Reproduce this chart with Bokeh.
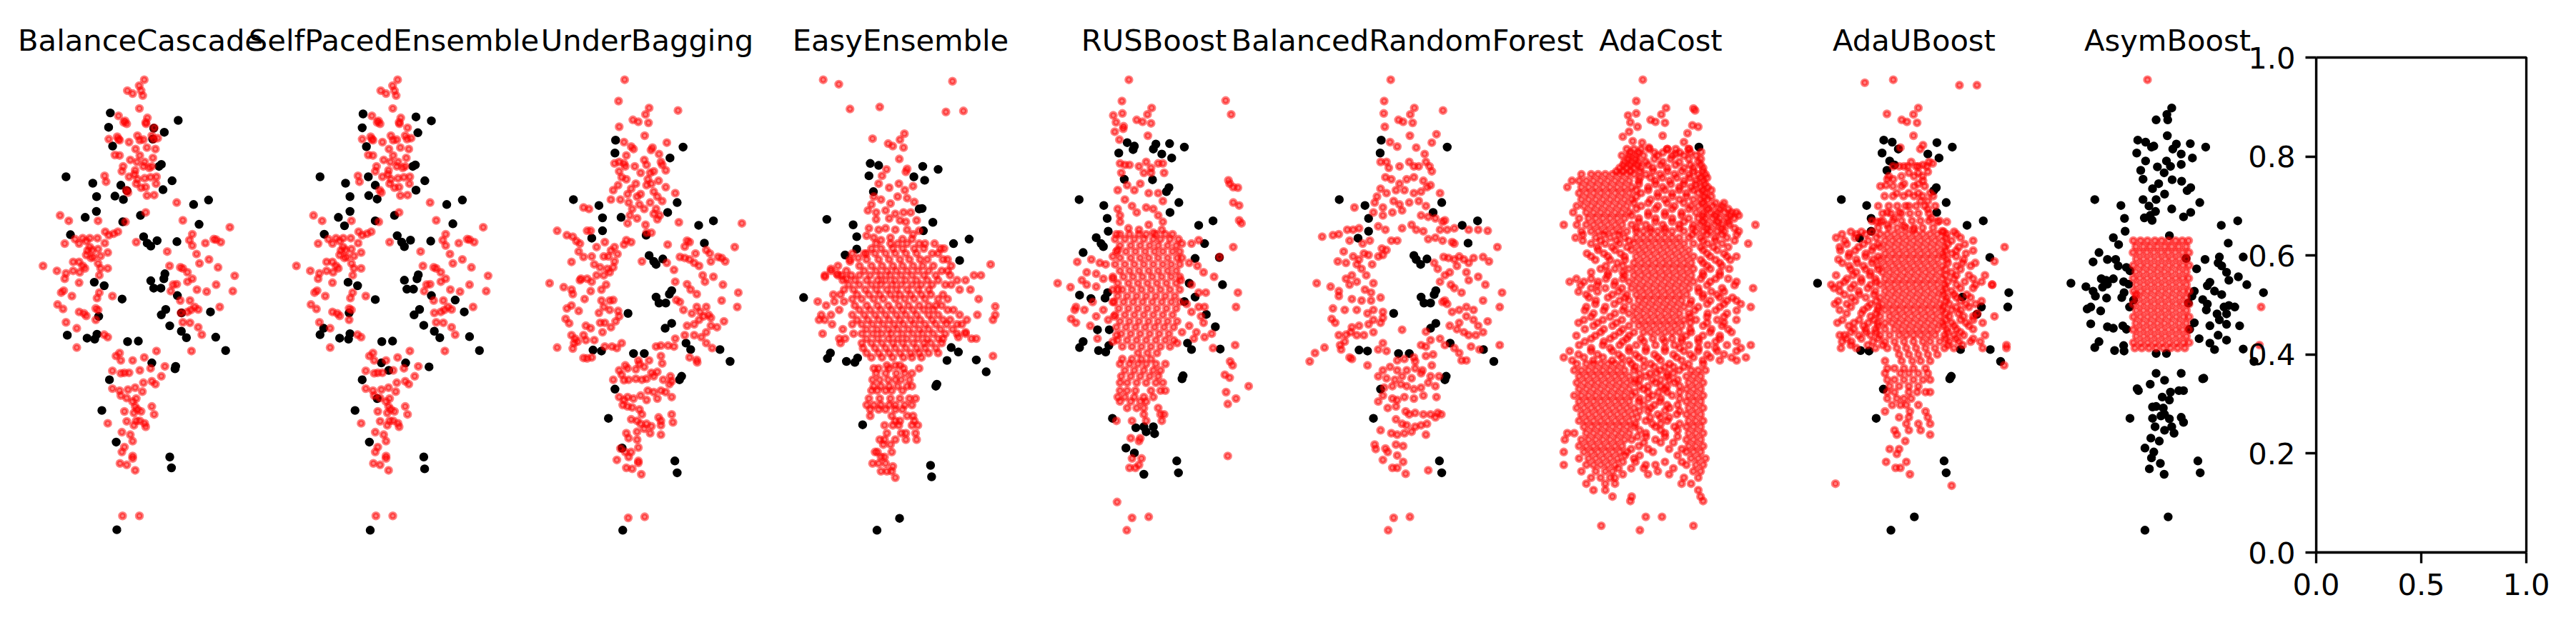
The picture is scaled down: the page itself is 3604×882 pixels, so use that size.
from bokeh.plotting import figure
from bokeh.models import Range1d, FixedTicker, PrintfTickFormatter, BoxAnnotation
from bokeh.layouts import row
from bokeh.embed import file_html
from bokeh.resources import INLINE
from bokeh.core.properties import value

# ---------------- data (feature space, per-mille of panel extent) ----------------
titles = ["BalanceCascade", "SelfPacedEnsemble", "UnderBagging", "EasyEnsemble", "RUSBoost",
          "BalancedRandomForest", "AdaCost", "AdaUBoost", "AsymBoost"]
x_ticks = [0.0, 0.5, 1.0]
y_ticks = [0.0, 0.2, 0.4, 0.6, 0.8, 1.0]

bc_black = [(357,888),(349,859),(679,873),(563,857),(613,849),(558,835),(368,821),(588,780),(599,784),(147,759),(274,746),(650,751),(292,719),(407,742),(436,731),(379,720),(419,713),(607,733),(752,703),(823,712),(291,689),(238,677),(416,668),(500,681),(778,663),(168,642),(515,638),(532,625),(549,619),(579,630),(673,628),(281,546),(328,539),(549,549),(563,534),(597,534),(616,563),(611,553),(413,512),(675,519),(302,477),(620,491),(599,480),(695,484),(832,486),(639,458),(694,447),(718,434),(153,439),(247,433),(283,431),(294,441),(439,426),(490,427),(857,435),(904,408),(554,383),(667,376),(664,371),(353,349),(317,287),(385,223),(639,193),(647,171),(388,46)]

spe_black = [(354,886),(605,880),(678,872),(350,858),(614,848),(370,820),(590,780),(602,783),(150,759),(379,759),(647,751),(271,746),(412,742),(605,732),(292,719),(381,721),(421,714),(751,703),(825,712),(292,689),(237,677),(503,681),(412,670),(266,660),(780,664),(170,643),(516,640),(579,631),(537,627),(550,618),(675,629),(283,546),(328,539),(550,550),(616,561),(610,553),(562,532),(593,532),(412,511),(678,519),(288,484),(791,510),(834,486),(622,491),(596,480),(642,459),(692,447),(718,434),(167,453),(150,440),(243,433),(285,431),(292,442),(443,426),(494,427),(859,436),(906,408),(441,383),(556,383),(476,368),(667,375),(350,349),(421,311),(316,287),(384,223),(642,193),(646,169),(388,45)]

spe_red = [(518,955),(494,943),(503,933),(438,933),(463,927),(511,923),(495,897),(396,882),(427,872),(435,866),(421,869),(525,869),(533,878),(565,858),(527,866),(350,835),(390,840),(401,833),(446,829),(486,842),(497,833),(514,834),(477,815),(531,818),(563,835),(582,837),(571,815),(554,842),(396,835),(379,803),(401,802),(452,793),(497,802),(520,789),(559,797),(418,780),(484,789),(514,780),(542,777),(554,780),(412,770),(475,772),(446,759),(472,764),(520,756),(548,758),(576,759),(480,745),(503,737),(525,738),(486,754),(531,721),(565,722),(574,745),(330,761),(337,749),(433,732),(441,727),
  (119,681),(160,670),(299,670),(429,668),(525,687),(333,648),(350,641),(373,644),(393,648),(190,633),(226,635),(243,629),(260,635),(296,635),(331,625),(141,624),(209,624),(260,617),(249,610),(271,611),(299,613),(243,601),(345,606),(311,599),(277,597),(181,587),(209,587),(226,579),(237,574),(299,584),(311,574),(345,574),(38,579),(104,569),(147,564),(141,553),(181,569),(212,566),(305,560),(266,595),(209,545),(305,525),(124,525),(136,529),(175,518),(367,518),(294,514),(107,501),(133,492),(209,486),(232,483),(243,478),(288,493),(299,490),(288,470),(147,465),(198,453),(328,440),(345,435),(198,414),(480,627),
  (672,707),(701,671),(924,657),(746,643),(732,631),(746,620),(808,625),(848,633),(859,632),(881,627),(627,608),(766,603),(780,584),(825,592),(638,579),(689,576),(701,574),(723,566),(746,553),(868,576),(947,559),(672,542),(655,541),(644,528),(723,547),(768,531),(814,527),(859,541),(938,528),(689,509),(735,509),(757,496),(774,491),(876,496),(692,484),(723,486),(740,490),(701,465),(735,464),(774,455),(791,440),(742,407),
  (576,407),(401,403),(384,397),(407,388),(463,388),(518,394),(367,367),(407,362),(424,363),(446,363),(497,368),(548,372),(616,376),(599,356),(514,343),(554,346),(571,340),(367,331),(401,327),(441,329),(475,333),(509,325),(407,317),(435,312),(463,305),(480,311),(475,295),(486,289),(424,285),(469,282),(503,285),(554,295),(565,279),(435,265),(480,266),(497,266),(520,261),(345,261),(469,257),(525,254),(412,243),(452,238),(463,225),(424,213),(412,203),(463,195),(463,190),(403,180),(435,177),(475,166),(415,74),(495,74)]
bc_red = spe_red

ub_black = [(350,833),(347,807),(670,819),(608,797),(150,713),(271,701),(288,676),(376,677),(288,650),(237,635),(642,707),(597,687),(495,641),(744,661),(814,670),(771,625),(509,600),(531,588),(574,593),(542,582),(542,516),(556,504),(588,504),(605,522),(616,529),(409,483),(585,453),(616,463),(243,409),(283,407),(435,402),(486,402),(684,423),(706,410),(845,410),(893,386),(653,349),(663,356),(347,330),(316,271),(381,211),(631,185),(642,161),(384,45)]

ub_red = [(393,955),(364,912),(646,893),(509,898),(492,885),(432,874),(458,870),(506,868),(367,860),(488,842),(390,829),(424,820),(435,815),(525,818),(518,813),(593,828),(556,805),(401,802),(345,786),(367,789),(390,786),(396,780),(441,780),(486,793),(497,783),(469,767),(565,789),(571,783),(588,772),(514,767),(531,770),(367,770),(379,758),(401,754),(503,754),(554,751),(520,745),(446,745),(424,735),(497,742),(469,724),(407,724),(362,742),(339,732),(328,713),(373,713),(412,707),(452,719),(463,703),(486,694),(514,707),(531,729),(548,719),(571,710),(588,738),(633,726),(429,694),(418,681),(407,665),(452,675),(531,684),(548,673),(559,681),(542,694),(492,662),(520,646),(650,667),
  (73,650),(119,641),(147,638),(164,629),(181,624),(215,650),(232,650),(198,697),(224,694),(260,617),(299,627),(328,610),(359,603),(345,617),(401,631),(424,627),(390,622),(175,608),(198,597),(141,587),(237,598),(249,582),(277,576),(294,598),(316,598),(345,588),(311,573),(186,553),(215,553),(237,547),(260,560),(294,560),(322,566),(339,576),(37,544),(104,536),(141,531),(147,522),(181,550),(203,512),(232,528),(283,531),(305,541),(283,509),(322,509),(339,510),(119,493),(141,499),(175,488),(271,484),(294,496),(322,490),(362,488),(367,477),(113,472),(130,463),(209,458),(232,453),(277,464),(299,464),(328,455),(350,467),(288,445),(141,439),(158,432),(153,423),(198,439),(209,429),(170,426),(147,412),(73,414),(249,429),(299,416),(333,416),(356,413),(379,423),(198,393),(215,392),(237,394),
  (475,588),(497,646),(597,622),
  (949,665),(689,630),(701,627),(678,618),(655,597),(678,595),(701,592),(729,604),(723,585),(746,579),(780,611),(797,604),(802,588),(836,597),(853,595),(870,588),(915,617),(593,585),(627,571),(633,547),(689,542),(706,531),(735,522),(763,560),(814,557),(859,541),(774,547),(932,525),(927,496),(638,510),(655,506),(672,490),(712,483),(735,496),(751,486),(780,496),(791,480),(768,477),(746,470),(723,461),(689,458),(678,439),(723,439),(757,435),(780,445),(802,458),(831,455),(864,467),(853,509),(802,474),(780,423),(808,413),(633,432),(627,416),(701,394),(735,389),(737,384),(599,418),(542,416),(565,418),
  (458,388),(463,381),(509,388),(565,397),(571,382),(367,368),(396,378),(407,372),(446,370),(486,375),(520,363),(548,365),(339,349),(379,359),(390,348),(412,349),(446,351),(475,349),(497,351),(531,356),(576,349),(610,356),(616,346),(605,340),(367,314),(390,308),(407,314),(435,311),(469,317),(503,327),(531,324),(565,327),(497,308),(548,311),(588,324),(616,314),(384,298),(407,295),(429,293),(463,289),(475,279),(469,260),(452,266),(424,269),(497,260),(520,255),(554,273),(565,266),(616,279),(622,263),(452,244),(486,250),(514,241),(565,238),(565,257),(401,241),(412,231),(452,228),(458,212),(373,210),(396,203),(424,203),(412,193),(458,185),(458,181),(356,187),(401,171),(429,169),(472,158),(410,70),(488,72)]

easy_black = [(356,786),(396,782),(350,761),(605,780),(678,774),(563,759),(614,752),(371,729),(150,673),(275,662),(292,638),(292,613),(237,601),(588,694),(602,695),(653,667),(608,650),(751,624),(825,633),(780,590),(40,515),(167,403),(153,392),(243,386),(283,384),(296,393),(740,414),(774,405),(720,388),(859,389),(906,365),(667,336),(672,340),(320,258),(642,176),(647,153),(495,69),(388,45)]

easy_red_pts = [(133,955),(207,946),(260,896),(401,900),(746,952),(715,890),(798,892),(367,836),(518,846),(497,834),(441,826),(463,821),(514,818),(494,795),(433,774),(412,761),(531,775),(525,769),
  (396,745),(446,737),(492,745),(520,732),(559,740),(373,719),(407,713),(452,705),(486,719),(531,716),(565,708),(362,703),(345,691),(384,687),(429,691),(475,684),(514,687),(548,687),(576,671),(384,673),(446,675),(497,671),(525,668),(350,655),(396,652),(429,655),(475,652),(531,652),(559,643),(588,650),(339,640),(373,636),(407,631),(452,636),(509,633),(554,633),(260,588),(299,595),(339,604),(170,573),(141,557),(198,563),(220,560),(243,553),
  (927,582),(949,497),(808,445),(774,435),(859,432)]

easy_red_rows = [
  (624, [384,452,486,531,588,616,661]),
  (614, [362,407,463,509,565,610,689,706]),
  (604, [271,328,379,429,475,525,576,650,678]),
  (592, [260,339,396,446,497,542,593,627,701,723]),
  (579, [203,305,362,412,463,509,559,605,655,740]),
  (569, [170,243,328,384,435,480,531,582,633,695,723]),
  (560, [141,203,266,305,356,407,452,503,554,610,667,735,848,881]),
  (550, [226,283,339,390,429,475,525,576,627,678,768,808]),
  (541, [254,305,362,407,458,503,554,599,650,712,740]),
  (531, [232,277,333,384,435,480,531,582,633,780,831]),
  (521, [181,215,294,350,401,452,497,548,599,644,701]),
  (512, [271,316,373,418,475,520,565,616,678,723,870]),
  (507, [107,186,232]),
  (499, [147,283,339,390,441,492,537,588,633,667,695]),
  (490, [209,305,356,407,458,509,559,610,655,723,751]),
  (480, [124,170,271,328,379,429,480,525,576,633,678,780,864,949]),
  (470, [113,141,294,345,396,446,497,548,593,650,701,735,814,938]),
  (461, [175,271,316,367,418,469,514,565,616,667,718,768,791]),
  (451, [226,339,390,441,486,537,588,633,689,746]),
  (442, [130,277,316,367,412,458,509,559,605,655,712,768,808]),
  (432, [209,237,339,390,441,486,531,582,627,678,701,836]),
  (423, [215,316,362,412,463,509,559,610,644,695]),
  (413, [322,379,429,475,525,576,616,667]),
  (403, [339,396,446,497,548,588,633,678]),
  (397, [938]),
  (394, [362,412,463,514,554,599]),
  (378, [435,475,497]),
  (372, [373,396,446,514,588]),
  (362, [384,429,480,520,554]),
  (349, [367,401,441,475,503,542]),
  (336, [373,407,446,486,531,554]),
  (327, [362,390,429,458,509]),
  (311, [350,401,452,497,542,571]),
  (298, [339,373,407,446,475,520,554]),
  (289, [356,396,429,475,509]),
  (276, [356,458,531,559]),
  (266, [475,497,565]),
  (257, [424,463,492,554,582]),
  (241, [435,503,525,571]),
  (228, [401,424,475,525,576]),
  (218, [418,452]),
  (203, [379,390,458]),
  (193, [407,424]),
  (180, [367,396,429]),
  (174, [463]),
  (164, [407,435,458]),
  (151, [475])]

rus_black = [(373,828),(407,821),(401,814),(333,807),(509,825),(497,815),(574,826),(537,805),(584,797),(644,819),(359,754),(493,753),(571,737),(559,729),(618,707),(576,687),(145,713),(262,701),(278,675),(283,649),(226,636),(249,624),(260,618),(164,606),(712,661),(780,670),(740,624),(695,594),(810,596),(825,541),(667,544),(695,516),(644,507),(748,481),(791,456),(147,520),(201,513),(268,514),(280,525),(232,450),(288,450),(164,426),(147,414),(237,408),(271,405),(286,418),(659,423),(678,410),(814,411),(633,351),(638,357),(303,271),(414,252),(452,254),(497,254),(503,240),(463,244),(367,211),(407,201),(608,185),(616,161),(452,158)]

rus_red_pts = [(381,955),(348,912),(489,898),(469,885),(307,883),(350,887),(418,874),(446,870),(486,867),(320,869),(356,861),(314,850),(354,856),(471,842),(336,834),(840,913),(866,885),
  (853,752),(859,745),(876,738),(898,737),(876,707),(904,701),(904,671),(915,665),(876,617),(811,597),(785,557),(898,525),(889,496),(885,419),(861,386),(873,378),(836,359),(859,353),(949,336),(842,324),(889,311),(850,300),(850,195),(325,102),(396,70),(475,72),(371,45),
  (339,786),(362,783),(384,783),(429,780),(463,789),(486,777),(520,786),(542,786),(345,767),(452,767),(486,767),(548,767),(328,732),(373,742),(407,732),(435,745),(475,726),(520,726),(542,710),(362,713),(328,694),(339,681),(396,700),(418,687),(463,697),(497,694),(520,681),(542,668),(339,668),(379,655),(429,652),(475,662),(497,646),(537,652),(322,643),
  (136,587),(203,592),(243,585),(271,582),(181,566),(226,563),(260,553),(305,553),(158,550),(43,544),(104,536),(181,541),(226,537),(124,490),(107,472),(130,464),(170,490),(130,496),(198,458),(226,477),(260,490),(283,470),(305,506),(311,477),(322,439),(232,432),(305,426),(209,506),(328,531),(328,611),(305,598),
  (633,624),(678,624),(712,631),(633,595),(667,585),(706,579),(735,566),(627,550),(678,541),(712,525),(746,525),(655,502),(712,496),(740,496),(678,486),(723,477),(735,464),(667,458),(701,445),(740,435),(774,442),(633,445),(610,423),(689,432),(780,413)]

rus_red_rows = [
  (643, [339,384,429,463,509,554,588]),
  (633, [316,362,407,452,497,531,576,616]),
  (620, [339,390,435,480,520,565,605]),
  (608, [322,367,412,458,503,542,588,622]),
  (595, [339,390,435,475,520,565,610]),
  (582, [316,362,407,452,497,542,582,622]),
  (569, [339,384,429,475,520,565,605]),
  (557, [305,356,401,446,492,537,582,622]),
  (544, [328,379,424,469,514,559,605]),
  (531, [305,350,396,441,486,531,576,622]),
  (518, [328,373,418,463,509,554,599]),
  (506, [311,356,401,446,492,537,582,622]),
  (493, [333,379,424,469,514,559,605]),
  (480, [316,362,407,452,497,542,588]),
  (467, [339,384,429,475,520,565,610]),
  (455, [322,367,412,458,503,548,593]),
  (442, [345,390,435,480,525,571]),
  (429, [328,373,418,463,509,554,593]),
  (416, [350,396,441,486,531,576]),
  (403, [424,469,514]),
  (391, [350,396,441,486]),
  (381, [339,384,424,463,509,554]),
  (368, [362,407,452,497,531]),
  (356, [345,390,435,480,520]),
  (343, [339,373,418,463,509,542]),
  (327, [339,373,412,486,531,554]),
  (314, [328,362,407,452,497]),
  (305, [339,390,435,463]),
  (292, [373,418,452,520]),
  (279, [452,531,548]),
  (266, [322,396,463,537]),
  (231, [390,435]),
  (225, [429]),
  (190, [396,441]),
  (177, [429]),
  (171, [384,412])]

brf_black = [(376,833),(371,807),(689,819),(177,713),(299,701),(316,675),(316,649),(266,635),(663,707),(622,687),(760,661),(833,670),(788,625),(531,600),(542,592),(563,582),(593,593),(565,516),(579,504),(610,504),(627,521),(635,529),(435,483),(610,453),(635,463),(271,409),(311,407),(458,402),(509,402),(703,423),(861,410),(910,386),(678,349),(684,356),(373,330),(339,271),(652,185),(663,161)]

brf_red = [(421,955),(390,912),(388,887),(533,898),(514,885),(458,874),(480,870),(525,868),(393,860),(512,842),(638,845),(669,893),(418,829),(452,820),(542,818),(582,805),(616,828),(463,780),(401,789),(373,789),(412,777),(509,789),(531,780),(588,789),(605,780),(616,770),(554,780),(396,758),(424,754),(463,745),(497,754),(531,758),(576,751),(373,735),(356,719),(401,726),(446,732),(486,732),(531,726),(565,729),(593,738),(610,742),(655,726),(345,707),(384,697),(435,710),(463,703),(509,707),(554,710),(588,700),(249,697),(339,687),(384,681),(429,687),(475,691),(565,681),(599,678),(633,675),(678,671),(655,652),(689,652),
  (96,638),(147,641),(175,643),(215,652),(243,652),(271,655),(322,630),(362,659),(396,652),(424,630),(452,630),(475,655),(520,662),(542,652),(576,649),(599,633),(633,636),(667,630),(712,627),(723,624),(226,630),(288,624),(379,614),(401,611),(294,604),
  (170,588),(198,608),(243,598),(271,592),(209,585),(260,582),(316,601),(333,582),(362,598),(384,601),(283,573),(305,560),(237,560),(260,547),(209,553),(136,537),(70,544),(175,528),(226,541),(299,531),(339,544),(328,525),(373,515),(175,518),(237,512),(283,509),(328,509),(147,493),(203,490),(141,472),(158,464),(260,490),(311,483),(339,490),(384,486),(384,474),(237,455),(271,458),(316,461),(339,470),(373,464),(175,439),(209,440),(232,445),(260,439),(294,439),(339,445),(203,426),(181,419),(186,410),(226,394),(237,391),(107,414),(62,403),(37,386),(311,378),(362,410),(384,423),(401,407),
  (475,450),(588,446),(565,419),(588,416),(610,429),(531,394),
  (667,668),(723,655),(791,652),(836,652),(881,650),(927,617),(672,597),(695,595),(723,592),(746,598),(768,592),(791,585),(814,595),(859,597),(887,588),(627,585),(644,573),(678,560),(701,566),(735,579),(780,566),(791,550),(836,557),(870,541),(949,525),(655,547),(706,541),(723,534),(757,525),(678,509),(689,502),(667,506),(712,486),(746,490),(780,496),(814,490),(859,509),(938,496),(746,464),(780,477),(814,470),(836,458),(881,467),(701,458),(735,451),(768,445),(791,439),(825,439),(859,445),(655,432),(678,419),(723,413),(746,403),(757,388),(780,388),(802,416),(842,410),(938,419),
  (452,388),(486,391),(537,386),(588,397),(622,400),(384,368),(418,375),(452,368),(497,368),(537,372),(571,368),(616,378),(362,356),(401,352),(441,349),(475,356),(520,352),(565,362),(610,356),(650,356),(390,333),(429,336),(469,340),(497,336),(531,330),(565,333),(599,343),(633,336),(384,317),(429,311),(452,308),(486,314),(531,311),(576,317),(638,314),(362,305),(407,292),(446,295),(492,285),(509,279),(537,282),(576,279),(610,279),(644,282),(661,279),(446,269),(475,260),(497,257),(537,254),(565,257),(593,260),(633,273),(373,247),(424,241),(452,238),(486,241),(520,244),(588,238),(345,218),(396,210),(446,218),(480,215),(350,209),(407,203),(452,196),(480,183),(384,187),(429,171),(452,171),(492,159),(599,166),(435,70),(512,72),(409,45)]

ac_black = [(681,819)]

ac_red_pts = [(415,955),(384,912),(345,883),(384,887),(525,898),(503,885),(452,874),(475,870),(520,868),(356,869),(350,850),(320,840),(390,860),(509,842),(655,897),(663,893),(650,863),(678,860),(627,847),(610,829),(367,831),(412,828),(444,818),(531,815),(571,805),(633,815),(692,809)]

ac_red_rows = [
  (815, [339,373,407,446,531,571,633]),
  (802, [316,350,384,418,486,554,610,667]),
  (789, [328,362,396,429,509,588,678]),
  (777, [305,339,373,407,463,531,610,655,701]),
  (764, [124,170,203,237,271,305,339,373,429,497,565,633,678,712]),
  (751, [79,113,147,181,215,249,283,316,350,396,475,542,610,667,701]),
  (738, [57,124,158,192,226,260,294,328,362,441,509,588,644,689,723]),
  (726, [113,147,181,215,249,283,316,350,407,486,554,622,678,712]),
  (713, [124,158,192,226,260,294,328,362,452,520,588,655,689,723]),
  (700, [102,136,170,203,237,271,305,339,407,486,565,644,678,712,746,791]),
  (687, [85,147,181,215,249,283,316,350,441,520,599,667,701,735,768,802,836,859]),
  (675, [113,158,192,226,260,294,328,396,475,554,633,678,712,746,780,814,848]),
  (662, [40,102,147,181,215,249,283,316,362,429,509,588,655,689,723,757,791,825,949]),
  (649, [124,170,203,237,271,305,339,384,418,452,486,520,554,610,667,701,735,768,802,870]),
  (636, [96,192,260,328,384,418,452,486,520,554,588,633,689,757,814]),
  (624, [170,237,305,373,407,441,475,509,542,576,610,655,723,791,915]),
  (611, [203,283,362,396,429,463,497,531,565,599,633,701,768]),
  (598, [170,249,328,384,418,452,486,520,554,588,622,655,735,814,859]),
  (585, [294,373,407,441,475,509,542,576,610,644,701,780]),
  (573, [215,283,350,384,418,452,486,520,554,588,622,655,735,825]),
  (560, [249,328,373,407,441,475,509,542,576,610,644,701,780]),
  (547, [68,136,203,283,350,384,418,452,486,520,554,588,622,655,735,859]),
  (534, [170,237,316,362,396,429,463,497,531,565,599,633,678,791,938]),
  (521, [147,271,339,384,418,452,486,520,554,588,622,701,768]),
  (509, [192,305,350,396,429,463,497,531,565,599,644,735,814,859]),
  (496, [147,237,328,373,407,441,475,509,542,576,610,678,780,927]),
  (483, [181,283,350,384,418,452,486,520,554,588,633,723,814]),
  (470, [136,226,316,373,407,441,475,509,542,576,610,667,768,859]),
  (458, [181,271,350,396,429,463,497,531,565,599,701,791]),
  (445, [215,305,373,418,452,486,520,554,588,644,735,836]),
  (432, [170,260,339,407,463,509,554,599,678,780]),
  (419, [113,226,305,384,475,565,633,723,814,927]),
  (407, [68,170,271,350,429,520,610,678,768,859]),
  (394, [40,136,226,316,396,486,576,655,735,836,904]),
  (381, [102,147,181,215,249,283,316,362,452,542,633,701]),
  (368, [90,124,158,192,226,260,294,328,373,497,588,644,678,712]),
  (356, [113,147,181,215,249,283,316,350,429,531,622,655,689]),
  (343, [102,136,170,203,237,271,305,339,373,475,565,633,667,701]),
  (330, [113,147,181,215,249,283,316,350,418,520,622,655,689]),
  (317, [90,124,158,192,226,260,294,328,362,463,554,633,667,701]),
  (305, [113,147,181,215,249,283,316,350,396,497,622,655,689]),
  (292, [102,136,170,203,237,271,305,339,373,452,542,633,667,701]),
  (279, [124,158,192,226,260,294,328,362,486,576,622,655,689]),
  (266, [113,147,181,215,249,283,316,350,429,531,633,667,701]),
  (254, [136,170,203,237,271,305,339,373,475,565,622,655,689]),
  (241, [57,90,147,181,215,249,283,316,350,429,520,633,667,701]),
  (228, [45,124,158,192,226,260,294,328,362,475,622,655,689]),
  (215, [113,147,181,215,249,283,316,396,633,667,701]),
  (203, [40,136,170,203,237,271,305,339,463,622,655,689]),
  (190, [113,158,192,226,260,294,373,644,678,712]),
  (177, [40,147,181,215,249,283,429,475,622,667,701]),
  (164, [124,192,237,271,486,655,689]),
  (151, [170,215,260,283,610,678]),
  (139, [147,237,283,599,644]),
  (126, [181,237,678]),
  (113, [271,362,689]),
  (104, [356,701]),
  (72, [429,506]),
  (54, [218,655]),
  (45, [401])]

# AdaCost: the looser samples between the dense clumps
ac_red_rows_mid = [
  (808, [356,395,470,510,590,640]),
  (795, [345,380,470,548,633,690]),
  (783, [322,356,390,440,500,570,640,690]),
  (770, [290,320,356,401,463,531,599,655,700]),
  (757, [401,452,508,576,638,690,720]),
  (744, [396,475,548,610,667,710]),
  (732, [384,441,520,588,655,700,740]),
  (719, [384,486,554,622,706,740]),
  (706, [373,441,531,610,700,760,800]),
  (694, [384,475,554,633,723,780,820]),
  (681, [362,441,520,599,700,760,830,870]),
  (668, [396,475,554,610,700,770,820]),
  (655, [384,452,520,588,650,720,790,850]),
  (642, [130,230,300,650,720,790,860]),
  (630, [130,215,290,350,700,760,850]),
  (617, [200,270,340,690,750,820]),
  (604, [150,230,310,720,800]),
  (591, [190,260,330,690,760,830]),
  (579, [240,320,720,790]),
  (566, [170,250,320,700,780]),
  (553, [100,170,240,320,690,760,820]),
  (540, [120,200,280,720,850]),
  (527, [110,200,300,680,740,800]),
  (515, [160,250,330,700,780,840]),
  (502, [190,280,640,720,800,880]),
  (489, [140,230,320,660,760,860]),
  (476, [170,260,640,720,800]),
  (464, [110,200,290,640,720,800]),
  (451, [140,230,320,640,740,820]),
  (438, [100,190,280,350,620,700,780]),
  (426, [140,230,320,420,520,600,680,760,860]),
  (413, [170,260,350,430,520,590,680,760,880]),
  (400, [110,200,300,380,470,560,640,720,800]),
  (388, [80,180,270,350,420,500,600,700,780,860]),
  (375, [380,420,470,520,560,610]),
  (362, [400,450,480,530,560]),
  (349, [380,400,460,500,540,580]),
  (336, [400,440,500,530,590]),
  (324, [380,440,490,530,590]),
  (311, [400,440,500,590]),
  (298, [420,470,530,580]),
  (286, [400,440,520,590]),
  (273, [390,450,500,540]),
  (260, [380,460,500,590]),
  (247, [400,500,580]),
  (234, [390,430,520,580]),
  (222, [420,500,560]),
  (209, [360,440,540,600]),
  (196, [330,400,580]),
  (183, [320,380,520,600]),
  (170, [300,360,420,560]),
  (158, [320,440,540])]

au_black = [(356,833),(396,829),(425,815),(348,807),(384,791),(407,783),(371,772),(608,828),(681,819),(565,805),(618,797),(593,731),(605,737),(652,707),(607,687),(155,713),(275,701),(296,675),(296,649),(241,635),(751,661),(828,670),(859,596),(42,544),(729,516),(819,496),(797,481),(949,525),(944,496),(246,408),(286,407),(720,410),(861,410),(910,386),(669,351),(676,356),(354,330),(320,271),(642,185),(652,161),(501,72),(390,45)]

au_red_pts = [(266,949),(401,955),(715,944),(798,944),(520,898),(497,885),(441,874),(466,870),(514,868),(371,886),(497,842),(435,818),(529,815),(542,823),(452,780),(486,789),(509,780),(542,783),(571,789),(588,786),(475,767),(520,767),(565,769),(373,754),(401,754),(452,745),(520,745),(542,751),(367,742),(418,726),(475,726),(520,726),(576,726),(531,710),(565,710),(565,694),(582,675),(429,687),(373,687),(407,675),(475,700),(339,668),(373,662),(452,659),(497,652),(610,668),(655,668),(633,649),(322,668),
  (127,139),(678,135),(929,617),(881,588),(938,419),(927,378),(836,560),(870,541)]

au_red_rows = [
  (643, [158,226,271,339,373,407,441,475,509,542,576,610,655,701]),
  (630, [170,283,362,396,429,463,497,531,565,599,633,678,780]),
  (617, [147,237,305,339,373,407,441,475,509,542,576,610,644,712]),
  (604, [192,271,362,396,429,463,497,531,565,599,633,678,746]),
  (592, [141,226,305,339,373,407,441,475,509,542,576,610,655,735]),
  (579, [192,260,328,362,396,429,463,497,531,565,599,633,701,768]),
  (566, [226,294,350,384,418,452,486,520,554,588,622,678]),
  (553, [181,249,316,362,396,429,463,497,531,565,599,633,689,780]),
  (541, [107,147,215,294,339,373,407,441,475,509,542,576,610,644,701,791,870]),
  (528, [147,237,316,362,396,429,463,497,531,565,599,633,678]),
  (515, [203,271,339,373,407,441,475,509,542,576,610,655,701,768]),
  (502, [124,181,294,350,384,418,452,486,520,554,588,622,667,746,791]),
  (490, [147,260,328,362,396,429,463,497,531,565,599,633,678,723]),
  (477, [294,339,384,418,452,486,520,554,588,622,667,735,780,881]),
  (464, [136,215,283,328,362,396,429,463,497,531,565,599,633,678,746,825]),
  (451, [215,271,316,362,407,441,475,509,542,576,610,655,701,780]),
  (439, [147,170,237,294,339,384,429,463,497,531,565,599,644,689,735,836]),
  (426, [158,203,305,362,407,452,497,542,576,622,667,712,768,814]),
  (413, [153,226,316,373,418,463,509,554,599,644,689,825,938]),
  (400, [429,475,520,565,610]),
  (387, [362,441,492,531,576]),
  (372, [373,407,452,497,554]),
  (362, [362,435,475,520,565]),
  (349, [373,407,452,497,542,576]),
  (336, [384,429,475,520]),
  (324, [373,407,475,514,554,576]),
  (311, [373,418,452,486]),
  (298, [396,435,463,520]),
  (285, [362,480,554]),
  (273, [429,475,565]),
  (260, [463,520,576]),
  (247, [407,475,531]),
  (238, [418,576]),
  (225, [458]),
  (209, [384,429]),
  (199, [418]),
  (183, [367,463]),
  (171, [412,435]),
  (158, [480])]

# AdaUBoost: looser samples around the dense core
au_red_rows_mid = [
  (780, [400,430,470,520,560]),
  (760, [380,440,500,540]),
  (740, [340,400,440,500,550]),
  (720, [360,400,450,500,540,590]),
  (700, [330,380,420,460,510,550,600]),
  (685, [350,390,440,480,520,570]),
  (670, [300,350,400,440,490,530,570,620]),
  (656, [330,380,420,460,500,540,590]),
  (648, [200,250,300,640,690]),
  (636, [130,220,320,650,720]),
  (623, [180,260,330,660,740]),
  (610, [150,220,300,650,700,780]),
  (598, [190,270,330,640,700]),
  (585, [160,230,300,660,730,790]),
  (572, [200,270,330,650,720]),
  (560, [130,210,290,650,700,760]),
  (547, [170,250,320,660,740,820]),
  (534, [120,200,280,650,720,780]),
  (521, [170,240,310,640,690,750]),
  (508, [140,220,320,650,720,820]),
  (496, [200,280,330,640,700,760]),
  (483, [180,250,320,650,710,800]),
  (470, [160,240,310,650,720,780]),
  (458, [190,260,330,640,690,760]),
  (445, [200,270,320,660,720]),
  (432, [180,250,330,650,700,780]),
  (419, [200,280,350,660,730])]

asym_black = [(520,898),(497,885),(446,874),(501,874),(499,842),(359,833),(396,829),(424,819),(435,821),(525,815),(542,825),(608,826),(681,819),(354,807),(565,805),(618,797),(396,791),(495,791),(565,784),(373,772),(452,779),(484,767),(514,780),(384,754),(522,753),(567,750),(429,735),(458,745),(593,731),(610,737),(486,724),(384,713),(446,713),(653,707),(520,694),(412,700),(443,689),(418,681),(390,676),(427,671),(610,687),(576,678),
  (155,713),(279,701),(296,675),(299,649),(243,636),(268,622),(175,606),(147,587),(215,592),(254,592),(266,579),(305,576),(322,569),(186,553),(209,550),(243,553),(292,547),(316,542),(42,544),(113,537),(147,528),(192,536),(215,542),(158,518),(211,514),(283,515),(294,525),(339,510),(320,496),(136,496),(119,492),(183,488),(136,462),(215,456),(243,453),(288,458),(305,451),(175,426),(155,414),(249,408),(292,418),(294,407),
  (509,640),(446,402),(495,402),
  (755,661),(833,670),(788,625),(588,594),(678,592),(746,597),(638,573),(740,585),(757,579),(780,566),(859,597),(836,557),(791,550),(876,541),(701,546),(689,539),(723,528),(627,528),(616,518),(757,521),(599,504),(667,511),(689,502),(684,490),(768,496),(791,499),(819,496),(780,482),(735,482),(746,470),(627,464),(605,451),(701,458),(780,461),(842,458),(740,439),(780,429),(650,432),(701,423),(723,410),(859,411),(910,386),(955,525),
  (446,362),(486,348),(565,362),(356,331),(362,327),(418,340),(475,314),(514,324),(554,327),(576,327),(509,308),(429,294),(446,295),(480,292),(486,279),(429,271),(469,276),(509,270),(322,271),(441,254),(486,247),(520,254),(531,241),(565,273),(576,263),(672,352),(667,351),(421,231),(461,225),(393,211),(435,203),(424,191),(466,180),(414,169),(484,158),(644,185),(655,161),(503,72),(393,45)]

asym_red_pts = [(405,955),(944,496),(936,419),(350,521)]

asym_red_rows = [
  (630, [338,372,405,440,472,505,538,570,600]),
  (618, [350,385,418,452,487,520,553,588]),
  (606, [336,368,402,436,470,503,537,571,602]),
  (593, [352,386,420,455,489,522,556,590]),
  (580, [338,371,404,438,472,506,540,573,603]),
  (567, [350,384,418,452,486,520,555,589]),
  (554, [337,369,403,437,471,505,539,572,601]),
  (541, [352,387,421,455,489,523,557,590]),
  (528, [339,372,405,439,473,507,541,574,603]),
  (515, [351,385,419,453,487,521,556,589]),
  (502, [337,370,404,438,472,506,540,573,602]),
  (489, [352,386,420,454,488,522,557,590]),
  (476, [338,371,405,439,473,507,541,575,603]),
  (463, [350,384,418,452,486,520,555,589]),
  (450, [337,369,403,437,471,505,539,572,601]),
  (437, [352,387,421,455,489,523,557,590]),
  (424, [338,372,406,440,474,508,542,575,603]),
  (413, [345,378,412,446,480,514,548,582])]


def flat(rows):
    return [(x, y) for y, xs in rows for x in xs]


panels = [
    (bc_black, bc_red),
    (spe_black, spe_red),
    (ub_black, ub_red),
    (easy_black, easy_red_pts + flat(easy_red_rows)),
    (rus_black, rus_red_pts + flat(rus_red_rows)),
    (brf_black, brf_red),
    (ac_black, ac_red_pts + flat(ac_red_rows) + flat(ac_red_rows_mid)),
    (au_black, au_red_pts + flat(au_red_rows) + flat(au_red_rows_mid)),
    (asym_black, asym_red_pts + flat(asym_red_rows)),
]

# ---------------- layout ----------------
FONT = "DejaVu Sans"
FS = "41.67px"
PANEL_W = 295.0       # px width of each panel box (one data unit)
PANEL_H = 693.0       # px height of each panel box (one data unit)
PITCH = 354.5         # px between panel starts
FIRST_LEFT = 48.5     # px, panel 0 left edge inside main canvas
WA, H = 3184, 866
BOTTOM = 93           # px below the boxes (tick labels of the last axes)
Y_TOP = 1 + (H - BOTTOM - PANEL_H) / PANEL_H   # data y at top of canvas

main = figure(width=WA, height=H, x_range=Range1d(0, 1), y_range=Range1d(0, Y_TOP),
              toolbar_location=None, output_backend="svg", title=None,
              x_axis_location=None, y_axis_location=None,
              min_border_left=0, min_border_right=0,
              min_border_top=0, min_border_bottom=BOTTOM,
              outline_line_color=None)
main.grid.grid_line_color = None
main.background_fill_color = "white"
main.border_fill_color = "white"

for k, (title, (blk, red)) in enumerate(zip(titles, panels)):
    left = FIRST_LEFT + k * PITCH
    name = f"p{k}"
    main.extra_x_ranges[name] = Range1d(-left / PANEL_W, (WA - left) / PANEL_W)
    if blk:
        main.scatter(x=[p[0] / 1000 for p in blk], y=[p[1] / 1000 for p in blk],
                     x_range_name=name, marker="circle", size=8.3,
                     fill_color="black", line_color="black", line_width=4.17)
    main.scatter(x=[p[0] / 1000 for p in red], y=[p[1] / 1000 for p in red],
                 x_range_name=name, marker="circle", size=8.3,
                 fill_color="red", fill_alpha=0.5, line_color="red", line_alpha=0.5,
                 line_width=4.17)
    main.text(x=[0.5], y=[1.0346], text=[title], x_range_name=name,
              text_align="center", text_baseline="alphabetic",
              text_font=value(FONT), text_font_size=FS, text_color="black")

# empty last axes (box drawn with bounded axes + box annotation)
LB, RB = 97, 51
last = figure(width=446, height=H, x_range=Range1d(0, (446 - LB - RB) / PANEL_W),
              y_range=Range1d(0, Y_TOP),
              toolbar_location=None, output_backend="svg", title=None,
              min_border_left=LB, min_border_right=RB,
              min_border_top=0, min_border_bottom=BOTTOM,
              outline_line_color=None)
last.grid.grid_line_color = None
last.background_fill_color = None
last.border_fill_color = None
last.border_fill_alpha = 0
last.xaxis.ticker = FixedTicker(ticks=x_ticks)
last.yaxis.ticker = FixedTicker(ticks=y_ticks)
last.xaxis.bounds = (0, 1)
last.yaxis.bounds = (0, 1)
for ax in (last.xaxis, last.yaxis):
    ax.formatter = PrintfTickFormatter(format="%.1f")
    ax.axis_line_color = "black"
    ax.axis_line_width = 3.33
    ax.major_tick_line_color = "black"
    ax.major_tick_line_width = 3.33
    ax.major_tick_out = 15
    ax.major_tick_in = 0
    ax.minor_tick_line_color = None
    ax.major_label_standoff = 14
    ax.major_label_text_font = FONT
    ax.major_label_text_font_size = FS
    ax.major_label_text_color = "black"
last.add_layout(BoxAnnotation(left=0, right=1, bottom=0, top=1,
                              fill_color=None, fill_alpha=0,
                              line_color="black", line_width=3.33, line_alpha=1.0))
last.margin = (0, 0, 0, -42)

layout = row(main, last)
open("out.html", "w").write(file_html(layout, INLINE))
